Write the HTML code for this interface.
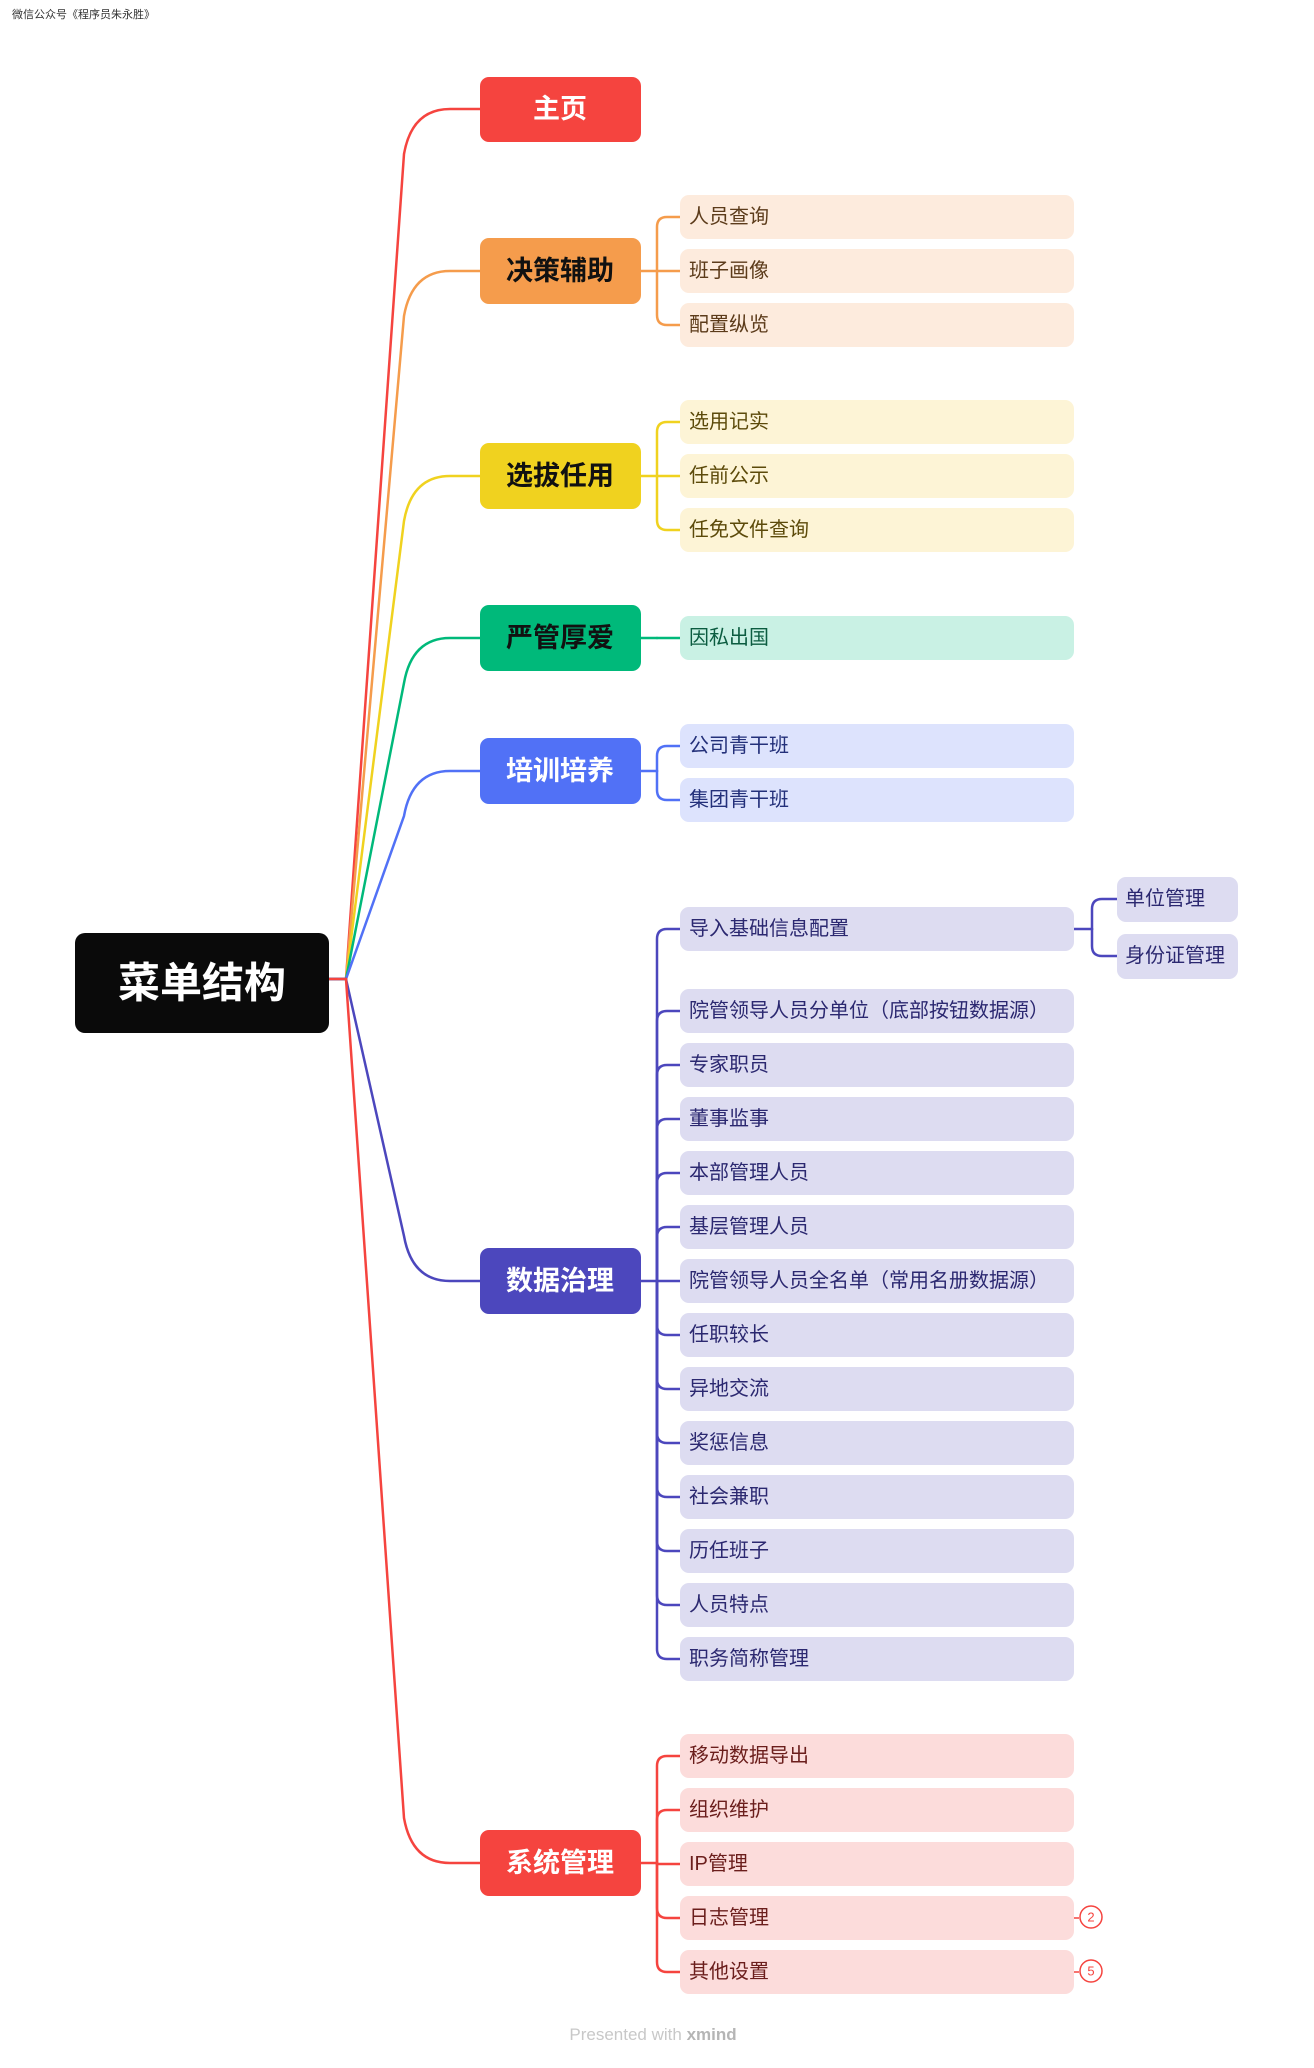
<!DOCTYPE html>
<html><head><meta charset="utf-8">
<style>
html,body{margin:0;padding:0;background:#fff;}
svg{display:block;}
text{font-family:"Liberation Sans","Noto Sans CJK SC",sans-serif;}
.m{font-size:27px;font-weight:bold;text-anchor:middle;dominant-baseline:central;}
.l{font-size:20px;dominant-baseline:central;}
</style></head><body>
<svg id="s" width="1314" height="2068" viewBox="0 0 1314 2068" xmlns="http://www.w3.org/2000/svg">
<g id="conn" fill="none" stroke-width="2.5" stroke-linecap="round"></g>
<text x="12" y="18" font-size="11" fill="#333">微信公众号《程序员朱永胜》</text>
<rect x="75" y="933" width="254" height="100" rx="10" fill="#0a0a0a"/>
<text x="202" y="983" class="m" fill="#fff" style="font-size:42px">菜单结构</text>
<rect x="480" y="77" width="161" height="65" rx="9" fill="#f5443f"/><text x="560" y="109" class="m" fill="#fff">主页</text>
<rect x="480" y="238" width="161" height="66" rx="9" fill="#f59c4c"/><text x="560" y="271" class="m" fill="#111">决策辅助</text>
<rect x="480" y="443" width="161" height="66" rx="9" fill="#f0d21f"/><text x="560" y="476" class="m" fill="#111">选拔任用</text>
<rect x="480" y="605" width="161" height="66" rx="9" fill="#00b97a"/><text x="560" y="638" class="m" fill="#111">严管厚爱</text>
<rect x="480" y="738" width="161" height="66" rx="9" fill="#5171f6"/><text x="560" y="771" class="m" fill="#fff">培训培养</text>
<rect x="480" y="1248" width="161" height="66" rx="9" fill="#4c47bd"/><text x="560" y="1281" class="m" fill="#fff">数据治理</text>
<rect x="480" y="1830" width="161" height="66" rx="9" fill="#f5443f"/><text x="560" y="1863" class="m" fill="#fff">系统管理</text>
<g fill="#fdebdd"><rect x="680" y="195" width="394" height="44" rx="9"/><rect x="680" y="249" width="394" height="44" rx="9"/><rect x="680" y="303" width="394" height="44" rx="9"/></g>
<g fill="#5c3b1a"><text class="l" x="689" y="217">人员查询</text><text class="l" x="689" y="271">班子画像</text><text class="l" x="689" y="325">配置纵览</text></g>
<g fill="#fdf4d6"><rect x="680" y="400" width="394" height="44" rx="9"/><rect x="680" y="454" width="394" height="44" rx="9"/><rect x="680" y="508" width="394" height="44" rx="9"/></g>
<g fill="#5c4a0a"><text class="l" x="689" y="422">选用记实</text><text class="l" x="689" y="476">任前公示</text><text class="l" x="689" y="530">任免文件查询</text></g>
<rect x="680" y="616" width="394" height="44" rx="9" fill="#c9f1e4"/><text class="l" x="689" y="638" fill="#0b5c40">因私出国</text>
<g fill="#dde3fd"><rect x="680" y="724" width="394" height="44" rx="9"/><rect x="680" y="778" width="394" height="44" rx="9"/></g>
<g fill="#23307a"><text class="l" x="689" y="746">公司青干班</text><text class="l" x="689" y="800">集团青干班</text></g>
<g fill="#dddcf1">
<rect x="680" y="907" width="394" height="44" rx="9"/>
<rect x="680" y="989" width="394" height="44" rx="9"/>
<rect x="680" y="1043" width="394" height="44" rx="9"/>
<rect x="680" y="1097" width="394" height="44" rx="9"/>
<rect x="680" y="1151" width="394" height="44" rx="9"/>
<rect x="680" y="1205" width="394" height="44" rx="9"/>
<rect x="680" y="1259" width="394" height="44" rx="9"/>
<rect x="680" y="1313" width="394" height="44" rx="9"/>
<rect x="680" y="1367" width="394" height="44" rx="9"/>
<rect x="680" y="1421" width="394" height="44" rx="9"/>
<rect x="680" y="1475" width="394" height="44" rx="9"/>
<rect x="680" y="1529" width="394" height="44" rx="9"/>
<rect x="680" y="1583" width="394" height="44" rx="9"/>
<rect x="680" y="1637" width="394" height="44" rx="9"/>
<rect x="1117" y="877" width="121" height="45" rx="9"/>
<rect x="1117" y="934" width="121" height="45" rx="9"/>
</g>
<g fill="#2b2870">
<text class="l" x="689" y="929">导入基础信息配置</text>
<text class="l" x="689" y="1011">院管领导人员分单位（底部按钮数据源）</text>
<text class="l" x="689" y="1065">专家职员</text>
<text class="l" x="689" y="1119">董事监事</text>
<text class="l" x="689" y="1173">本部管理人员</text>
<text class="l" x="689" y="1227">基层管理人员</text>
<text class="l" x="689" y="1281">院管领导人员全名单（常用名册数据源）</text>
<text class="l" x="689" y="1335">任职较长</text>
<text class="l" x="689" y="1389">异地交流</text>
<text class="l" x="689" y="1443">奖惩信息</text>
<text class="l" x="689" y="1497">社会兼职</text>
<text class="l" x="689" y="1551">历任班子</text>
<text class="l" x="689" y="1605">人员特点</text>
<text class="l" x="689" y="1659">职务简称管理</text>
<text class="l" x="1125" y="899">单位管理</text>
<text class="l" x="1125" y="956">身份证管理</text>
</g>
<g fill="#fcdcdb">
<rect x="680" y="1734" width="394" height="44" rx="9"/>
<rect x="680" y="1788" width="394" height="44" rx="9"/>
<rect x="680" y="1842" width="394" height="44" rx="9"/>
<rect x="680" y="1896" width="394" height="44" rx="9"/>
<rect x="680" y="1950" width="394" height="44" rx="9"/>
</g>
<g fill="#6b1e1c">
<text class="l" x="689" y="1756">移动数据导出</text>
<text class="l" x="689" y="1810">组织维护</text>
<text class="l" x="689" y="1864">IP管理</text>
<text class="l" x="689" y="1918">日志管理</text>
<text class="l" x="689" y="1972">其他设置</text>
</g>
<g fill="#fff" stroke="#f5443f" stroke-width="1.5">
<line x1="1074" y1="1918" x2="1079" y2="1918"/><circle cx="1091" cy="1917" r="11"/>
<line x1="1074" y1="1972" x2="1079" y2="1972"/><circle cx="1091" cy="1971" r="11"/>
</g>
<g fill="#f5443f" font-size="13" text-anchor="middle" dominant-baseline="central">
<text x="1091" y="1917">2</text><text x="1091" y="1971">5</text>
</g>
<text x="653" y="2040" font-size="17" fill="#c8c8c8" text-anchor="middle">Presented with <tspan font-weight="bold" fill="#b5b5b5">xmind</tspan></text>
</svg>
<script>
(function(){
var g=document.getElementById('conn'),NS='http://www.w3.org/2000/svg';
function p(d,c){var e=document.createElementNS(NS,'path');e.setAttribute('d',d);e.setAttribute('stroke',c);g.appendChild(e);}
var mains=[[109,'#f5443f'],[271,'#f59c4c'],[476,'#f0d21f'],[638,'#00b97a'],[771,'#5171f6'],[1281,'#4c47bd'],[1863,'#f5443f']];
mains.forEach(function(m){var cy=m[0],s=cy<979?-1:1;
p('M329 979 H346 L404 '+(cy-s*45)+' Q412 '+cy+' 450 '+cy+' H480',m[1]);});
function br(x0,cy,xb,xe,leaves,c){p('M'+x0+' '+cy+' H'+xb,c);
leaves.forEach(function(ly){if(Math.abs(ly-cy)<3){p('M'+xb+' '+cy+' V'+ly+' H'+xe,c);return;}
var s=ly<cy?-1:1;p('M'+xb+' '+cy+' V'+(ly-s*10)+' Q'+xb+' '+ly+' '+(xb+10)+' '+ly+' H'+xe,c);});}
br(641,271,657,680,[217,271,325],'#f59c4c');
br(641,476,657,680,[422,476,530],'#f0d21f');
br(641,638,657,680,[638],'#00b97a');
br(641,771,657,680,[746,800],'#5171f6');
var d=[929];for(var k=0;k<13;k++)d.push(1011+54*k);
br(641,1281,657,680,d,'#4c47bd');
br(1074,929,1092,1117,[899,956],'#4c47bd');
br(641,1863,657,680,[1756,1810,1864,1918,1972],'#f5443f');
})();
</script>
</body></html>
